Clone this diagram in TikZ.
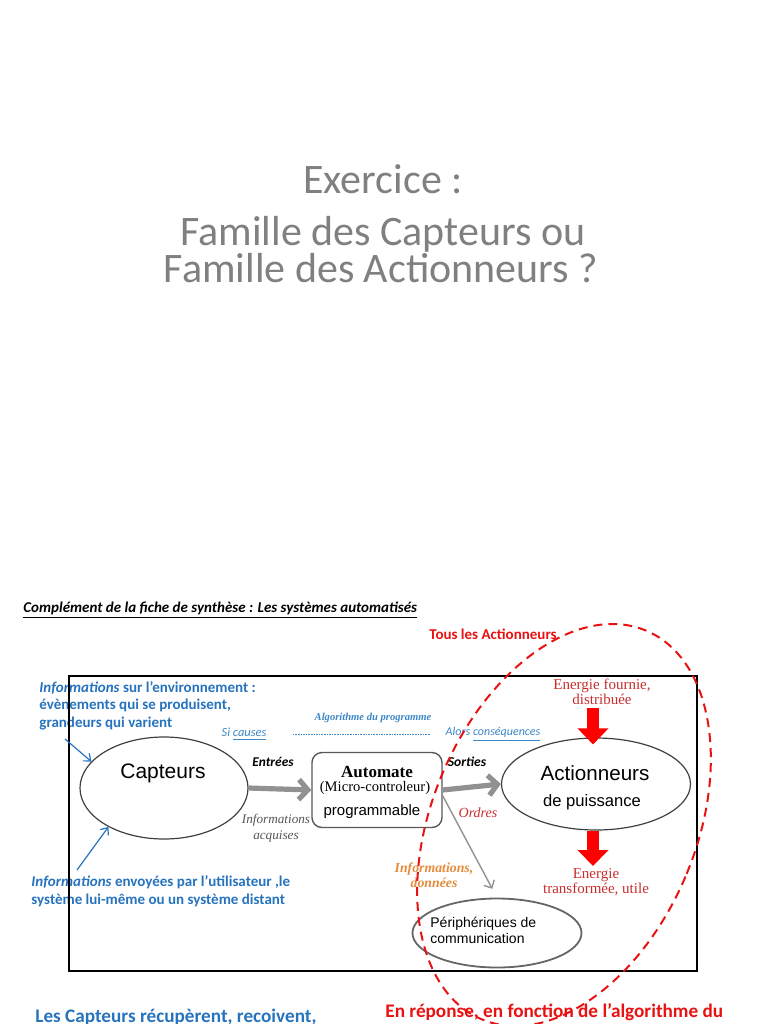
\documentclass[tikz,border=0pt]{standalone}
\usepackage{fontspec}
\setmainfont{Carlito}
\newfontfamily\arialf{Liberation Sans}
\newfontfamily\timesf{Liberation Serif}
\usepackage{tikz}
\usetikzlibrary{arrows.meta,shapes.geometric}
\definecolor{titlegray}{RGB}{128,128,128}
\definecolor{infoblue}{RGB}{38,115,190}
\definecolor{algoblue}{RGB}{60,135,200}
\definecolor{actred}{RGB}{232,18,18}
\definecolor{enred}{RGB}{200,45,45}
\definecolor{infoorange}{RGB}{228,140,60}
\definecolor{acqgray}{RGB}{85,85,85}
\definecolor{arrowgray}{RGB}{145,145,145}
\tikzset{
 txt/.style={inner sep=0pt},
 bulle/.style={draw=black!75,ellipse,line width=.6pt,inner sep=0pt},
 boite/.style={draw=black!65,rounded corners=5pt,line width=.7pt,inner sep=0pt},
 grosse/.style={draw=arrowgray,line width=2.6pt,-{Straight Barb[length=4.5pt,width=10pt]}},
 fine/.style={draw=arrowgray,line width=.7pt,-{Straight Barb[length=3pt,width=6pt]}},
 bloc/.style={draw=red,line width=6pt,-{Triangle[length=8pt,width=15pt]}},
 fleche bleue/.style={draw=infoblue,line width=.6pt,-{Straight Barb[length=3pt,width=5pt]}},
 tous/.style={draw=actred,line width=1pt,dash pattern=on 4.5pt off 3pt}
}
\begin{document}
\begin{tikzpicture}[x=.5pt,y=-.5pt]
\useasboundingbox(0,0)rectangle(768,1024);
\node[txt,titlegray,font=\fontsize{21}{24}\selectfont,anchor=base](exo)at(383,193){Exercice :};
\node[txt,titlegray,font=\fontsize{21}{24}\selectfont,anchor=base](fam1)at(383,245){Famille des Capteurs ou};
\node[txt,titlegray,font=\fontsize{21}{24}\selectfont,anchor=base](fam2)at(381,282){Famille des Actionneurs ?};
\node[txt,font=\bfseries\itshape\fontsize{7.5}{9}\selectfont,anchor=base west](fiche)at(23,612){\underline{Complément de la fiche de synthèse : Les systèmes automatisés}};
\node[txt,actred,font=\bfseries\fontsize{7.5}{9}\selectfont](tous)at(493,634){Tous les Actionneurs};
\node[txt,infoblue,font=\bfseries\fontsize{7.5}{8.75}\selectfont,align=left,anchor=base west](envi)at(39,727){\textit{Informations} sur l’environnement :\\évènements qui se produisent,\\grandeurs qui varient};
\node[txt,infoblue,font=\bfseries\fontsize{7.5}{9}\selectfont,align=left,anchor=base west](envoi)at(31,904){\textit{Informations} envoyées par l’utilisateur ,le\\système lui-même ou un système distant};
\draw[line width=.8pt](69,676)rectangle(697,971);
\node[bulle,minimum width=84pt,minimum height=51pt](cap)at(164,788){};\node[txt,font=\arialf\fontsize{10.5}{12}\selectfont](capt)at(163,773){Capteurs};
\node[boite,minimum width=65pt,minimum height=37.5pt](auto)at(377,790){};
\node[txt,font=\timesf\bfseries\fontsize{8.5}{10}\selectfont](autot)at(377,772){Automate};
\node[txt,font=\timesf\fontsize{7.3}{9}\selectfont](micro)at(375,788){(Micro-controleur)};
\node[txt,font=\arialf\fontsize{7.5}{9}\selectfont](prog)at(372,812){programmable};
\node[bulle,minimum width=94.5pt,minimum height=46pt](act)at(596,784){};
\node[txt,font=\arialf\fontsize{10.3}{12}\selectfont](actt)at(595,773){Actionneurs};\node[txt,font=\arialf\fontsize{8.3}{10}\selectfont](puis)at(592,802){de puissance};
\node[bulle,draw=black!60,line width=.9pt,minimum width=84.5pt,minimum height=34.5pt](peri)at(497,933){};
\node[txt,font=\arialf\fontsize{7}{8}\selectfont,align=left,anchor=west](perit)at(430,930){Périphériques de\\communication};
\draw[grosse](cap.east)--(auto.west);\draw[grosse](auto.east)--(act.west);
\draw[fine,shorten >=5pt](auto.-5)--(peri.north);
\coordinate(ef)at(593,708);\coordinate(et)at(593,866);
\draw[bloc,shorten >=-3.5pt](ef)--(ef|-act.north);\draw[bloc](et|-act.south)--(et);
\coordinate(b1)at(65,739);\coordinate(b2)at(77,870);
\draw[fleche bleue](b1)--(cap.160);\draw[fleche bleue](b2)--(cap.215);
\node[txt,algoblue,font=\timesf\itshape\bfseries\fontsize{5.3}{6}\selectfont](algo)at(373,718){Algorithme du programme};
\node[txt,algoblue,font=\itshape\fontsize{6.2}{7}\selectfont](si)at(244,734){Si \underline{causes}};
\node[txt,algoblue,font=\itshape\fontsize{6}{7}\selectfont](alors)at(493,734){Alors \underline{conséquences}};
\draw[algoblue,line width=.5pt,dash pattern=on .8pt off .5pt,shorten <=13pt,shorten >=7.5pt](si)--(alors);
\node[txt,font=\bfseries\itshape\fontsize{6.7}{8}\selectfont](entr)at(273,762){Entrées};
\node[txt,font=\bfseries\itshape\fontsize{6.8}{8}\selectfont](sort)at(467,762){Sorties};
\node[txt,acqgray,font=\timesf\itshape\fontsize{6.6}{7.8}\selectfont,align=center](acq)at(276,828){Informations\\acquises};
\node[txt,enred,font=\timesf\itshape\fontsize{7}{8}\selectfont](ordr)at(478,813){Ordres};
\node[txt,infoorange,font=\timesf\itshape\bfseries\fontsize{6.9}{7.8}\selectfont,align=center](donn)at(434,875){Informations,\\données};
\node[txt,enred,font=\timesf\fontsize{7.5}{7.6}\selectfont,align=center](fourn)at(602,692){Energie fournie,\\distribuée};
\node[txt,enred,font=\timesf\fontsize{7.5}{7.2}\selectfont,align=center](transf)at(596,882){Energie\\transformée, utile};
\node[txt,infoblue,font=\bfseries\fontsize{9.6}{11}\selectfont,anchor=base west](recup)at(35,1022){Les Capteurs récupèrent, recoivent,};
\node[txt,actred,font=\bfseries\fontsize{9.6}{11}\selectfont,anchor=base west](rep)at(385,1017){En réponse, en fonction de l’algorithme du};
\draw[tous,rotate around={-23:(564,825)}](564,825)ellipse[x radius=132,y radius=211];
\end{tikzpicture}
\end{document}
